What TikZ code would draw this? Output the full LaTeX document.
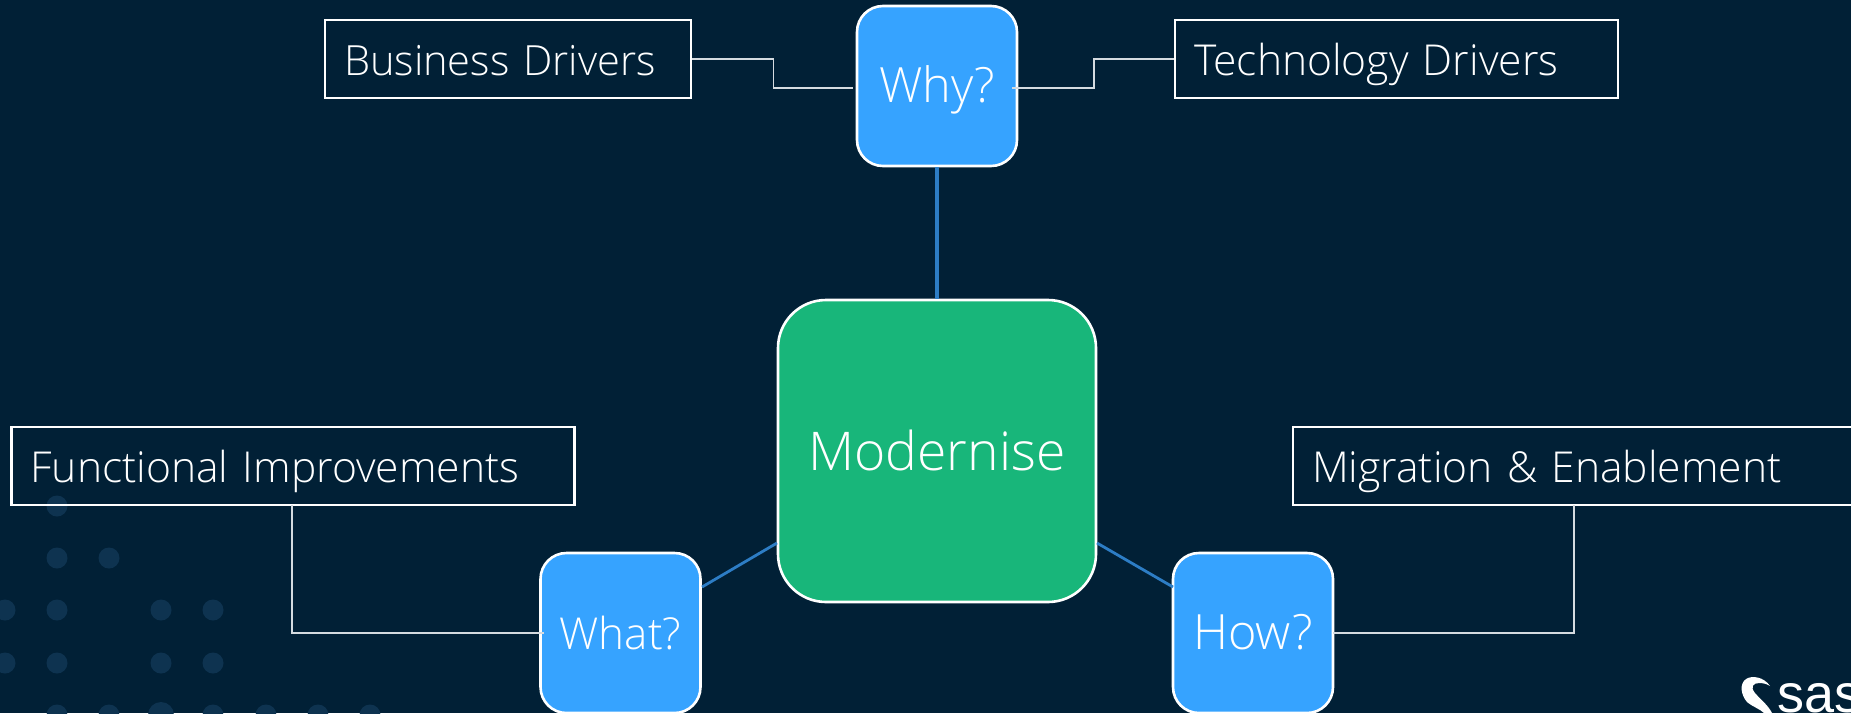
\documentclass[tikz,border=0pt]{standalone}
\usepackage{fontspec}
\setmainfont{Open Sans}[UprightFont=* Light]
\newfontfamily\logofont{Liberation Sans}
\usetikzlibrary{positioning}
\definecolor{sasnavy}{HTML}{012036}
\definecolor{sasdot}{HTML}{0E3350}
\definecolor{sasblue}{HTML}{36A3FF}
\definecolor{sasgreen}{HTML}{18B67A}
\definecolor{saslink}{HTML}{2D7DC5}
\definecolor{saswire}{HTML}{D5DBE0}

\begin{document}
\begin{tikzpicture}[x=0.5pt,y=-0.5pt,
	textbox/.style={draw=white,line width=1.3pt,text=white,align=left,inner xsep=9.5pt,inner ysep=0pt,minimum height=39pt,text height=20pt,text depth=4pt,font=\fontsize{21.3}{24}\selectfont},
	askbox/.style={draw=white,line width=1.3pt,fill=sasblue,rounded corners=13pt,text=white,minimum size=80pt,inner sep=0pt,text height=20pt,text depth=4pt,font=\fontsize{24.3}{28}\selectfont},
	hubbox/.style={draw=white,line width=1.3pt,fill=sasgreen,rounded corners=24pt,text=white,minimum width=159pt,minimum height=151pt,inner sep=0pt,text height=23pt,text depth=4pt,font=\fontsize{26.7}{36}\selectfont},
	wire/.style={draw=saswire,line width=0.55pt},
	link/.style={draw=saslink,line width=1.4pt}]

		\useasboundingbox (0,0) rectangle (1851,713);
		\clip (0,0) rectangle (1851,713);
		\fill[sasnavy] (0,0) rectangle (1851,713);

		% dots behind the lower left corner
		\foreach \x/\y in {57/506,57/558,109/558,5/610,57/610,161/610,213/610,5/663,57/663,161/663,213/663,57/715,109/715,213/715,266/715,318/715,370/715}
			\fill[sasdot] (\x,\y) circle (10.5);
		\fill[sasdot] (161,715) circle (13);

		\node [hubbox] (Modernise) at (937,451) {Modernise};
		\node [askbox] (Why) at (937,86) {Why?};
		\node [askbox,font=\fontsize{22}{26}\selectfont] (What) at (620.5,633) {What?};
		\node [askbox] (How) at (1253,633) {How?};

		\node [textbox,text width=164pt,font=\fontsize{20.8}{24}\selectfont] (Business) at (508,59) {Business Drivers};
		\node [textbox,text width=202.5pt] (Technology) at (1396.5,59) {Technology Drivers};
		\node [textbox,text width=262.5pt] (Functional) at (293,466) {Functional Improvements};
		\node [textbox,text width=269.5pt] (Migration) at (1581.5,466) {Migration \& Enablement};

		\coordinate (WhyL) at (853,88);
		\coordinate (WhyR) at (1012,88);
		\coordinate (WhatL) at (544,633);
		\coordinate (HowR) at (1333,633);
		\coordinate (FuncDrop) at (292,505);
		\coordinate (MigrDrop) at (1574,505);
		\coordinate (HubL) at (777,543);
		\coordinate (HubR) at (1097,543);
		\coordinate (WhatE) at (702,587);
		\coordinate (HowW) at (1173,587);

		\draw [link,line width=2pt] (Why.south) -- (Modernise.north);
		\draw [link] (WhatE) -- (HubL);
		\draw [link] (HowW) -- (HubR);

		\draw [wire] (Business.east) -- ++(81,0) |- (WhyL);
		\draw [wire] (WhyR) -- ++(82,0) |- (Technology.west);
		\draw [wire] (FuncDrop) |- (WhatL);
		\draw [wire] (HowR) -| (MigrDrop);

		% logo, cut off by the page edge
		\node [text=white,anchor=base west,inner sep=0pt,font=\logofont\fontsize{27}{30}\selectfont] (Logo) at (1777,712) {sas};
		\fill [white] (1770,686) .. controls (1764,677) and (1752,675) .. (1746,679) .. controls (1739,684) and (1741,695) .. (1747,702) .. controls (1753,707) and (1760,709) .. (1764,713) -- (1772,713) .. controls (1768,705) and (1760,699) .. (1755,693) .. controls (1750,687) and (1753,683) .. (1759,683) .. controls (1763,683) and (1767,684) .. cycle;
	\end{tikzpicture}
\end{document}
